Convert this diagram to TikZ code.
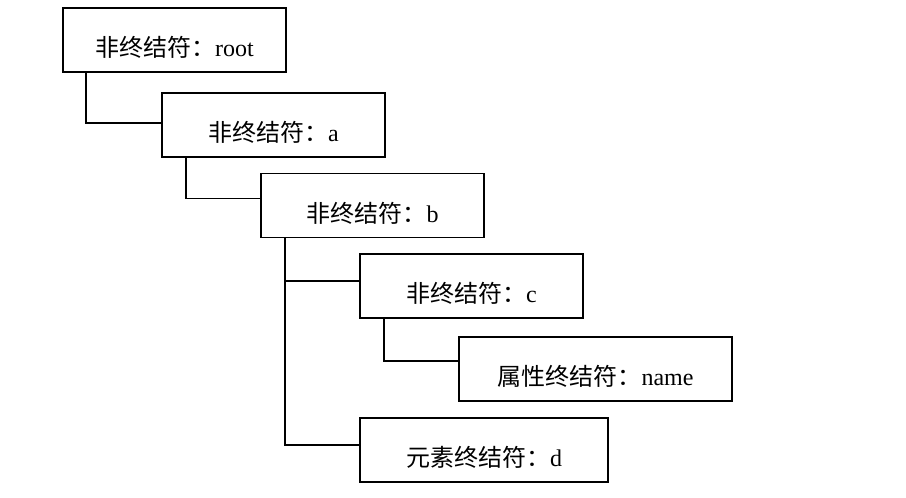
\documentclass[tikz,border=0pt]{standalone}
\usepackage{fontspec}
\setmainfont{Liberation Serif}
\newfontfamily\cjk{Noto Sans CJK SC}
\begin{document}
\begin{tikzpicture}[x=1pt,y=-1pt,
  box/.style={draw,line width=1.7pt,inner sep=0pt,minimum height=64pt,
    text height=33pt,text depth=0pt,font=\fontsize{24}{26}\selectfont},
  link/.style={line width=1.7pt}]
\useasboundingbox (0,0) rectangle (906,498);
\node[box,minimum width=223pt] (root) at (174.5,40) {{\cjk 非终结符：}root};
\node[box,minimum width=223pt] (a) at (273.5,125) {{\cjk 非终结符：}a};
\node[box,minimum width=223pt] (b) at (372.5,205.5) {{\cjk 非终结符：}b};
\node[box,minimum width=223pt] (c) at (471.5,286) {{\cjk 非终结符：}c};
\node[box,minimum width=273pt] (name) at (595.5,369) {{\cjk 属性终结符：}name};
\node[box,minimum width=248pt] (d) at (484,450) {{\cjk 元素终结符：}d};
\draw[link] ([xshift=24pt]root.south west) |- ([yshift=2pt]a.west);
\draw[link] ([xshift=25pt]a.south west) |- ([yshift=7pt]b.west);
\draw[link] ([xshift=25pt]b.south west) |- ([yshift=5pt]c.west);
\draw[link] ([xshift=25pt]b.south west) |- ([yshift=5pt]d.west);
\draw[link] ([xshift=25pt]c.south west) |- ([yshift=8pt]name.west);
\end{tikzpicture}
\end{document}
